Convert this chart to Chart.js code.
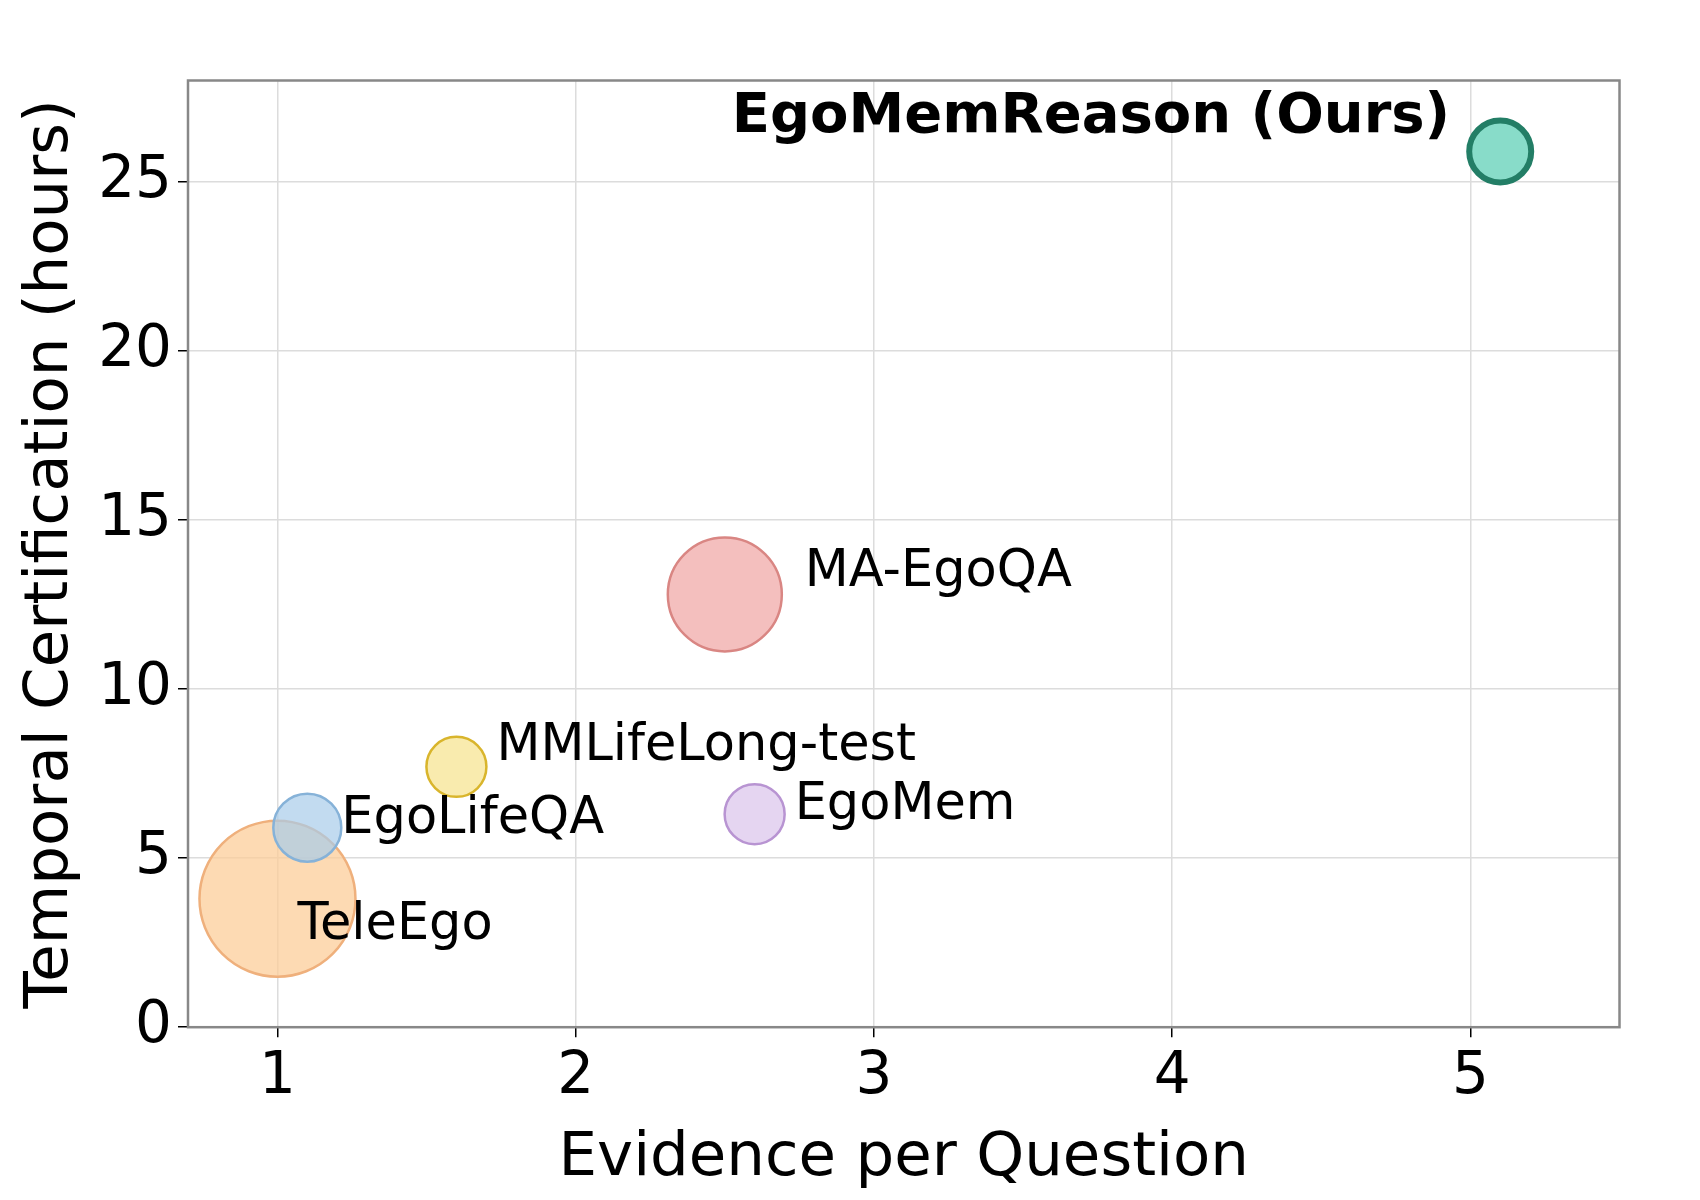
<!DOCTYPE html>
<html><head><meta charset="utf-8">
<script src="https://cdn.jsdelivr.net/npm/chart.js@4"></script>
<style>body{margin:0;background:#fff}#wrap{width:1700px;height:1200px}</style>
</head><body><div id="wrap"><canvas id="c"></canvas></div>
<script>
// Data
const names = ['TeleEgo', 'EgoLifeQA', 'MMLifeLong-test', 'MA-EgoQA', 'EgoMem', 'EgoMemReason (Ours)'];
const evidence = [1.0, 1.1, 1.6, 2.5, 2.6, 5.1];
const hours = [3.8, 5.9, 7.7, 12.8, 6.3, 25.9];
const sizes = [78, 34, 30, 57, 30, 31];
const fills = ['rgba(252,206,153,0.75)', 'rgba(168,204,234,0.7)', 'rgba(246,226,140,0.7)', 'rgba(240,170,168,0.75)', 'rgba(222,202,238,0.8)', '#88dcc9'];
const borders = ['#efb07c', '#86b2d8', '#d9b52c', '#d98683', '#b894d2', '#237e66'];
// label offsets in pixels [dx, dy, align]
const labelPos = [[20, 27, 'left'], [34, -8, 'left'], [40, -20, 'left'], [80, -22, 'left'], [40, -8, 'left'], [-50, -34, 'right']];

const labelPlugin = {
  id: 'labels',
  afterDatasetsDraw(chart) {
    const ctx = chart.ctx, xs = chart.scales.x, ys = chart.scales.y;
    ctx.save();
    ctx.textBaseline = 'middle';
    ctx.fillStyle = '#000';
    names.forEach((n, i) => {
      const [dx, dy, al] = labelPos[i];
      ctx.font = (i === 5 ? 'bold 56px' : '51px') + ' "DejaVu Sans"';
      ctx.textAlign = al;
      ctx.fillText(n, xs.getPixelForValue(evidence[i]) + dx, ys.getPixelForValue(hours[i]) + dy);
    });
    ctx.restore();
  }
};
const frame = {
  id: 'frame',
  afterDraw(chart) {
    const a = chart.chartArea, ctx = chart.ctx;
    ctx.save(); ctx.strokeStyle = '#888'; ctx.lineWidth = 2.5;
    ctx.strokeRect(a.left, a.top, a.right - a.left, a.bottom - a.top);
    ctx.restore();
  }
};

new Chart(document.getElementById('c'), {
  type: 'bubble',
  data: {
    datasets: [{
      data: evidence.map((x, i) => ({x: x, y: hours[i], r: sizes[i]})),
      backgroundColor: fills,
      borderColor: borders,
      borderWidth: evidence.map((x, i) => i === 5 ? 6 : 2.5)
    }]
  },
  options: {
    responsive: true, maintainAspectRatio: false, animation: false,
    layout: {padding: {top: -22, right: -21, left: 11, bottom: 0}},
    plugins: {legend: {display: false}, tooltip: {enabled: false}},
    scales: {
      x: {
        min: 0.7, max: 5.5,
        afterBuildTicks: s => { s.ticks = [1, 2, 3, 4, 5].map(v => ({value: v})); },
        grid: {color: '#dcdcdc', lineWidth: 1.5, tickColor: '#000', tickLength: 10},
        border: {display: false},
        ticks: {color: '#000', font: {size: 58, family: 'DejaVu Sans'}, padding: 6},
        title: {display: true, text: 'Evidence per Question', color: '#000', font: {size: 61, family: 'DejaVu Sans'}}
      },
      y: {
        min: 0, max: 28,
        afterBuildTicks: s => { s.ticks = [0, 5, 10, 15, 20, 25].map(v => ({value: v})); },
        grid: {color: '#dcdcdc', lineWidth: 1.5, tickColor: '#000', tickLength: 10},
        border: {display: false},
        ticks: {color: '#000', font: {size: 58, family: 'DejaVu Sans'}, padding: 6},
        title: {display: true, text: 'Temporal Certification (hours)', color: '#000', font: {size: 61, family: 'DejaVu Sans'}}
      }
    }
  },
  plugins: [labelPlugin, frame]
});
</script></body></html>
